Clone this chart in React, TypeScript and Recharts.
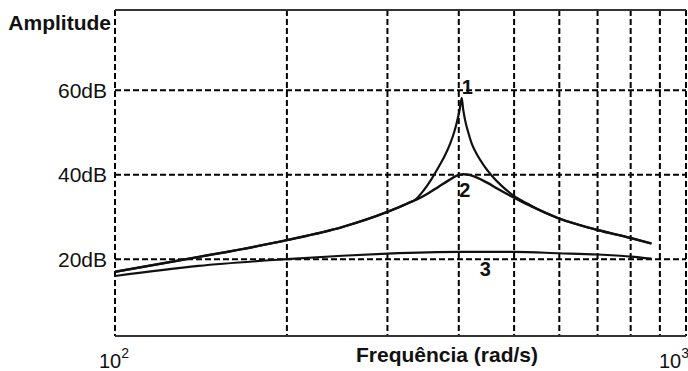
import React from "react";
import {
    LineChart,
    Line,
    XAxis,
    YAxis,
    CartesianGrid,
    ReferenceLine,
    ReferenceDot,
} from "recharts";

const FONT = "'Liberation Sans', Arial, Helvetica, sans-serif";
const INK = "#111";

// eixo das frequências (rad/s), escala logarítmica
const freqTicks = [100, 200, 300, 400, 500, 600, 700, 800, 900, 1000];
const ampTicks = [20, 40, 60];

// curva 1 - pico agudo
const freq1 = [100, 140, 200, 250, 300, 326.6, 335.8, 346.8, 358.1, 369.8, 378.8, 386.5, 392.7, 397.5, 401.5, 404.7, 407.2, 410.5, 415.4, 421.3, 430.7, 443, 457.4, 476.1, 499.5, 528.4, 550.1, 595, 650, 700, 800, 870];
const amp1 = [17.0, 20.5, 24.5, 27.6, 31.2, 33.3, 34.1, 36.2, 38.9, 42.1, 44.7, 47.4, 50.1, 52.8, 55.4, 58.2, 55.4, 52.8, 50.1, 47.4, 44.7, 42.1, 39.7, 37.3, 35.0, 33.1, 31.8, 29.8, 28.1, 26.9, 25.0, 23.7];

// curva 2 - pico suave
const freq2 = [100, 140, 200, 250, 300, 326.6, 340, 353.8, 368.3, 383.4, 395.9, 407.2, 418.8, 432.4, 450.1, 468.6, 487.8, 507.7, 528.4, 550.1, 595, 650, 700, 800, 870];
const amp2 = [17.0, 20.5, 24.5, 27.6, 31.2, 33.3, 34.3, 35.6, 37.1, 38.6, 39.7, 40.1, 39.9, 39.2, 38.0, 36.6, 35.3, 34.1, 32.9, 31.8, 29.8, 28.1, 26.9, 25.0, 23.7];

// curva 3 - quase plana
const freq3 = [100, 140, 200, 250, 300, 400, 500, 600, 700, 800, 870];
const amp3 = [16.0, 18.4, 20.0, 20.8, 21.3, 21.7, 21.7, 21.4, 21.1, 20.6, 20.1];

// rótulos das curvas
const curveLabels = [
    { name: "1", f: 414, a: 60.8 },
    { name: "2", f: 410, a: 36.4 },
    { name: "3", f: 445, a: 17.7 },
];

const Y_MIN = 1.8;
const Y_MAX = 79;

const toPoints = (fs: number[], as: number[]) => fs.map((f, i) => ({ f, a: as[i] }));
const series1 = toPoints(freq1, amp1);
const series2 = toPoints(freq2, amp2);
const series3 = toPoints(freq3, amp3);

const FreqTick = (props: any) => {
    const { x, y, payload } = props;
    const v = payload.value;
    if (v !== 100 && v !== 1000) return null;
    const exp = v === 100 ? "2" : "3";
    const cx = v === 100 ? x - 1 : x - 12;
    return (
        <text x={cx} y={y + 24} textAnchor="middle" fontFamily={FONT} fontSize={20} fill={INK}>
            10
            <tspan dy={-10} fontSize={14}>{exp}</tspan>
        </text>
    );
};

export default function App() {
    return (
        <div style={{ position: "absolute", left: 0, top: 0, width: 688, height: 371, background: "#fff", fontFamily: FONT }}>
            <LineChart width={688} height={371} margin={{ top: 10, right: 2, left: 0, bottom: 0 }}>
                {/* grade tracejada */}
                <CartesianGrid stroke="#000" strokeWidth={2} strokeDasharray="6 3" />

                <XAxis
                    dataKey="f"
                    type="number"
                    scale="log"
                    domain={[100, 1000]}
                    ticks={freqTicks}
                    allowDataOverflow
                    height={35}
                    tickLine={false}
                    axisLine={{ stroke: "#333", strokeWidth: 1.8 }}
                    tick={<FreqTick />}
                    interval={0}
                    label={{
                        content: (p: any) => (
                            <text
                                x={p.viewBox.x + 332}
                                y={p.viewBox.y + 26}
                                textAnchor="middle"
                                fontFamily={FONT}
                                fontWeight="bold"
                                fontSize={21}
                                fill={INK}
                            >
                                Frequência (rad/s)
                            </text>
                        ),
                    }}
                />
                <YAxis
                    type="number"
                    domain={[Y_MIN, Y_MAX]}
                    ticks={ampTicks}
                    width={115}
                    allowDataOverflow
                    tickLine={false}
                    axisLine={false}
                    tickFormatter={(v: number) => `${v}dB`}
                    tick={{ fill: INK, fontSize: 21, fontFamily: FONT }}
                    label={{
                        content: (p: any) => (
                            <text
                                x={p.viewBox.x + p.viewBox.width - 4}
                                y={p.viewBox.y + 20}
                                textAnchor="end"
                                fontFamily={FONT}
                                fontWeight="bold"
                                fontSize={21}
                                fill={INK}
                            >
                                Amplitude
                            </text>
                        ),
                    }}
                />

                {/* borda superior */}
                <ReferenceLine y={Y_MAX} stroke="#333" strokeWidth={1.8} />

                <Line data={series1} dataKey="a" type="monotone" stroke={INK} strokeWidth={2.2} dot={false} isAnimationActive={false} />
                <Line data={series2} dataKey="a" type="monotone" stroke={INK} strokeWidth={2.4} dot={false} isAnimationActive={false} />
                <Line data={series3} dataKey="a" type="monotone" stroke={INK} strokeWidth={2.2} dot={false} isAnimationActive={false} />

                {curveLabels.map((c) => (
                    <ReferenceDot
                        key={c.name}
                        x={c.f}
                        y={c.a}
                        r={0}
                        stroke="none"
                        fill="none"
                        label={{ value: c.name, position: "center", fontSize: 20, fontWeight: "bold", fill: INK, fontFamily: FONT }}
                    />
                ))}
            </LineChart>
        </div>
    );
}
